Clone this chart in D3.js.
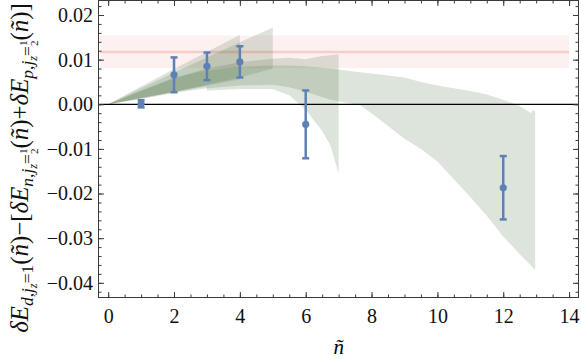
<!DOCTYPE html>
<html>
<head>
<meta charset="utf-8">
<script src="https://cdn.jsdelivr.net/npm/d3@7"></script>
<style>
  body { margin: 0; background: white; }
  svg { display: block; }
</style>
</head>
<body>
<svg id="canvas" width="581" height="359"></svg>
<script>
// data
var nPts = [1, 2, 3, 4, 6, 12];
var vals = [0.0001, 0.0066, 0.0085, 0.0095, -0.0045, -0.0187];
var errs = [0.0008, 0.0039, 0.0031, 0.0035, 0.0076, 0.0071];

// experimental band (pink): central value and range
var expVal = 0.0117;
var expLo = 0.0081;
var expHi = 0.0154;
var expRange = [-0.25, 14];

// extrapolation bands [n, lo, hi]
var band4 = [[0, 0, 0], [1, 0.0014, 0.0040], [2, 0.0028, 0.0079], [3, 0.0042, 0.0117], [4, 0.0056, 0.0155]];
var band5 = [[0, 0, 0], [1, 0.0014, 0.0036], [2, 0.0028, 0.0071], [3, 0.0044, 0.0105], [4, 0.0060, 0.0139], [5, 0.0080, 0.0172]];
var band7 = [[0, 0, 0], [1, 0.0013, 0.0030], [2, 0.0027, 0.0058], [2.98, 0.0040, 0.0080], [3, 0.0031, 0.0080],
  [4, 0.0034, 0.0094], [5, 0.0034, 0.0102], [5.5, 0.0020, 0.0104], [6, -0.0012, 0.0101], [6.5, -0.0060, 0.0108],
  [6.75, -0.0092, 0.0110], [7, -0.0155, 0.0112]];
var band13 = [[0, 0, 0], [1, 0.0012, 0.0031], [2, 0.0025, 0.0060], [3, 0.0036, 0.0076], [4, 0.0042, 0.0084],
  [5, 0.0044, 0.0087], [5.5, 0.0038, 0.0087], [6, 0.0028, 0.0085], [6.75, 0.0010, 0.0080], [7.65, -0.0002, 0.0072],
  [8, -0.0020, 0.0069], [9, -0.0077, 0.0060], [9.5, -0.0100, 0.0050], [10, -0.0128, 0.0042], [10.5, -0.0168, 0.0036],
  [11, -0.0208, 0.0030], [11.5, -0.0250, 0.0022], [12, -0.0296, 0.0010], [12.5, -0.0336, -0.0004],
  [12.85, -0.0362, -0.0020], [12.9, -0.0366, -0.0013], [12.97, -0.0372, -0.0016]];
var bands = [band13, band7, band5, band4];

// ticks
var xTicks = [0, 2, 4, 6, 8, 10, 12, 14];
var yTicks = [-0.04, -0.03, -0.02, -0.01, 0, 0.01, 0.02];
var yTickLabels = ["\u22120.04", "\u22120.03", "\u22120.02", "\u22120.01", "0.00", "0.01", "0.02"];

var svg = d3.select("#canvas");
var width = +svg.attr("width");
var height = +svg.attr("height");

var plotL = 98.5, plotR = 578.5, plotT = 0.5, plotB = 297.5;

var xScale = d3.scaleLinear()
  .domain([-0.294, 14.286])
  .range([plotL, plotR]);

var yScale = d3.scaleLinear()
  .domain([-0.04329, 0.02325])
  .range([plotB, plotT]);

var blue = "#5e81b5";
var frameColor = "#3a3a3a";
var tickFont = "'Liberation Serif', 'Times New Roman', serif";

// pink band and line
svg.append("rect")
  .attr("x", xScale(expRange[0]))
  .attr("y", yScale(expHi))
  .attr("width", xScale(expRange[1]) - xScale(expRange[0]))
  .attr("height", yScale(expLo) - yScale(expHi))
  .style("fill", "#fdf0f0");

svg.append("line")
  .attr("x1", xScale(expRange[0]))
  .attr("x2", xScale(expRange[1]))
  .attr("y1", yScale(expVal))
  .attr("y2", yScale(expVal))
  .style("stroke", "#f9cccc")
  .style("stroke-width", 2.5);

// green bands
var area = d3.area()
  .x(function(d) { return xScale(d[0]); })
  .y0(function(d) { return yScale(d[1]); })
  .y1(function(d) { return yScale(d[2]); });

svg.selectAll("path.band")
  .data(bands)
  .enter().append("path")
  .attr("class", "band")
  .attr("d", area)
  .style("fill", "#4d6d40")
  .style("fill-opacity", 0.19);

// zero line
svg.append("line")
  .attr("x1", plotL)
  .attr("x2", plotR)
  .attr("y1", yScale(0))
  .attr("y2", yScale(0))
  .style("stroke", "black")
  .style("stroke-width", 1.2);

// frame ticks
function minorRange(a, b, step) {
  var out = [];
  for (var i = Math.round(a / step); i * step <= b + 1e-9; i++) out.push(i * step);
  return out;
}
var xMinor = minorRange(0, 14, 0.5);
var yMinor = minorRange(-0.042, 0.022, 0.002);

function drawAxis(axis, tx, ty) {
  var g = svg.append("g")
    .attr("transform", "translate(" + tx + "," + ty + ")")
    .call(axis);
  g.select(".domain").remove();
  g.selectAll("line").style("stroke", frameColor);
  g.selectAll("text")
    .style("font-family", tickFont)
    .style("font-size", "20px")
    .style("fill", "#111");
  return g;
}

drawAxis(d3.axisBottom(xScale).tickValues(xMinor).tickSize(-3).tickFormat(""), 0, plotB);
drawAxis(d3.axisTop(xScale).tickValues(xMinor).tickSize(-3).tickFormat(""), 0, plotT);
drawAxis(d3.axisLeft(yScale).tickValues(yMinor).tickSize(-3).tickFormat(""), plotL, 0);
drawAxis(d3.axisRight(yScale).tickValues(yMinor).tickSize(-3).tickFormat(""), plotR, 0);

drawAxis(d3.axisBottom(xScale).tickValues(xTicks).tickSize(-5.5).tickPadding(11.5), 0, plotB);
drawAxis(d3.axisTop(xScale).tickValues(xTicks).tickSize(-5.5).tickFormat(""), 0, plotT);
drawAxis(d3.axisLeft(yScale).tickValues(yTicks).tickSize(-5.5).tickPadding(5.5)
  .tickFormat(function(d, i) { return yTickLabels[i]; }), plotL, 0);
drawAxis(d3.axisRight(yScale).tickValues(yTicks).tickSize(-5.5).tickFormat(""), plotR, 0);

// frame
svg.append("rect")
  .attr("x", plotL)
  .attr("y", plotT)
  .attr("width", plotR - plotL)
  .attr("height", plotB - plotT)
  .style("fill", "none")
  .style("stroke", frameColor)
  .style("stroke-width", 1);

// error bars
var pts = nPts.map(function(n, i) { return { n: n, v: vals[i], e: errs[i] }; });

var bars = svg.selectAll("g.pt")
  .data(pts)
  .enter().append("g")
  .attr("class", "pt");

bars.append("line")
  .attr("x1", function(d) { return xScale(d.n); })
  .attr("x2", function(d) { return xScale(d.n); })
  .attr("y1", function(d) { return yScale(d.v - d.e); })
  .attr("y2", function(d) { return yScale(d.v + d.e); })
  .style("stroke", blue)
  .style("stroke-width", 2.5);

bars.selectAll("line.cap")
  .data(function(d) { return [[d.n, d.v - d.e], [d.n, d.v + d.e]]; })
  .enter().append("line")
  .attr("class", "cap")
  .attr("x1", function(d) { return xScale(d[0]) - 3.5; })
  .attr("x2", function(d) { return xScale(d[0]) + 3.5; })
  .attr("y1", function(d) { return yScale(d[1]); })
  .attr("y2", function(d) { return yScale(d[1]); })
  .style("stroke", blue)
  .style("stroke-width", 2.5);

bars.append("circle")
  .attr("cx", function(d) { return xScale(d.n); })
  .attr("cy", function(d) { return yScale(d.v); })
  .attr("r", 3.6)
  .style("fill", blue);

// x label
svg.append("text")
  .attr("x", xScale(7))
  .attr("y", 354)
  .attr("text-anchor", "middle")
  .style("font-family", tickFont)
  .style("font-style", "italic")
  .style("font-size", "21px")
  .text("\u00f1");

// y label, built from pieces with sub / subsub shifts
var parts = [
  { t: "\u03b4E", s: 20, y: 0, i: true },
  { t: "d", s: 14, y: 4, i: true },
  { t: ",", s: 14, y: 4, i: false },
  { t: "j", s: 14, y: 4, i: true },
  { t: "z", s: 10, y: 7, i: true },
  { t: "=1", s: 14, y: 4, i: false },
  { t: "(", s: 20, y: 0, i: false },
  { t: "\u00f1", s: 20, y: 0, i: true },
  { t: ")\u2212[", s: 20, y: 0, i: false },
  { t: "\u03b4E", s: 20, y: 0, i: true },
  { t: "n", s: 14, y: 4, i: true },
  { t: ",", s: 14, y: 4, i: false },
  { t: "j", s: 14, y: 4, i: true },
  { t: "z", s: 10, y: 7, i: true },
  { t: "=", s: 14, y: 4, i: false },
  { t: "1", s: 9, y: -1, i: false },
  { t: "2", s: 9, y: 8, i: false, dx: -4.5 },
  { t: "(", s: 20, y: 0, i: false },
  { t: "\u00f1", s: 20, y: 0, i: true },
  { t: ")+", s: 20, y: 0, i: false },
  { t: "\u03b4E", s: 20, y: 0, i: true },
  { t: "p", s: 14, y: 4, i: true },
  { t: ",", s: 14, y: 4, i: false },
  { t: "j", s: 14, y: 4, i: true },
  { t: "z", s: 10, y: 7, i: true },
  { t: "=", s: 14, y: 4, i: false },
  { t: "1", s: 9, y: -1, i: false },
  { t: "2", s: 9, y: 8, i: false, dx: -4.5 },
  { t: "(", s: 20, y: 0, i: false },
  { t: "\u00f1", s: 20, y: 0, i: true },
  { t: ")]", s: 20, y: 0, i: false }
];

var ylabG = svg.append("g");
var ylab = ylabG.append("text")
  .attr("text-anchor", "middle")
  .style("font-family", tickFont)
  .style("fill", "#111");

var prevY = 0;
parts.forEach(function(p) {
  ylab.append("tspan")
    .attr("dy", p.y - prevY)
    .attr("dx", p.dx || 0)
    .style("font-size", p.s + "px")
    .style("font-style", p.i ? "italic" : "normal")
    .text(p.t);
  prevY = p.y;
});

// fit the label to the length it has in the picture
var labLen = ylab.node().getBBox().width;
var k = 330 / labLen;
ylabG.attr("transform", "translate(28,168) rotate(-90) scale(" + k + ")");
</script>
</body>
</html>
